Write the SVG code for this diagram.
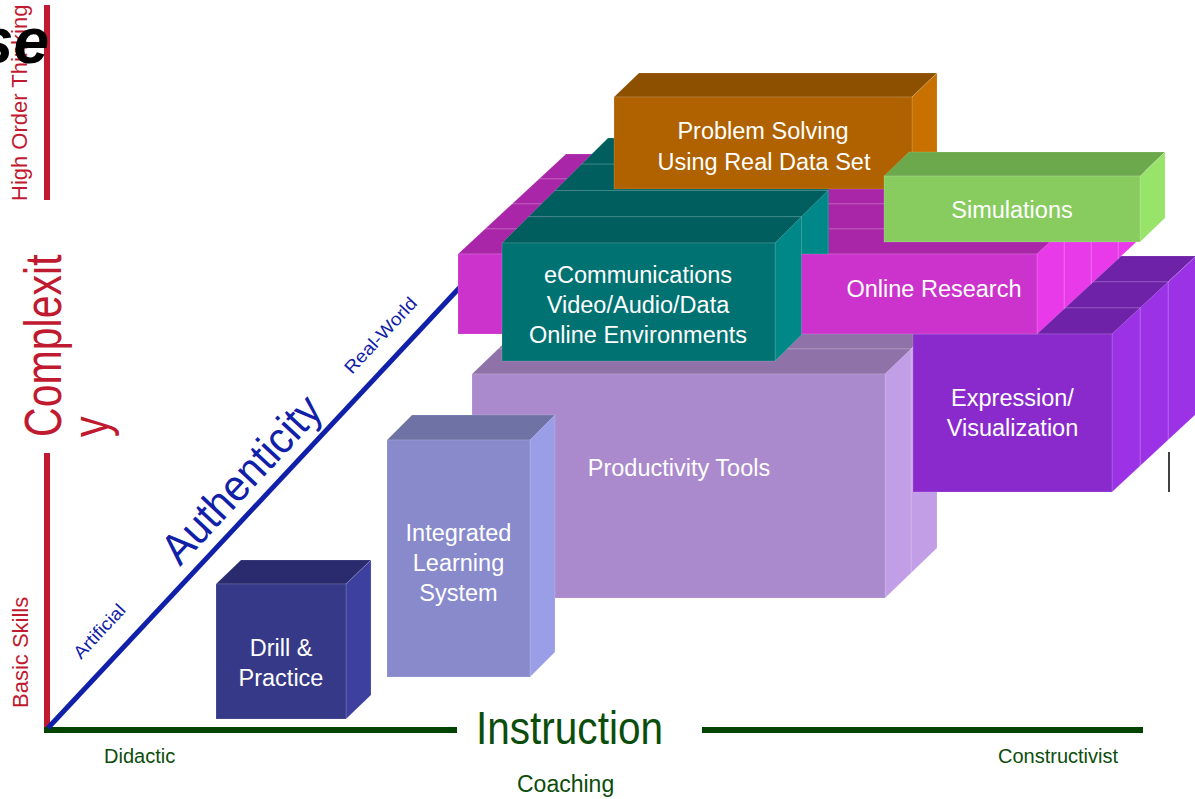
<svg xmlns="http://www.w3.org/2000/svg" width="1195" height="799" viewBox="0 0 1195 799">
<style>
  .lbl { font-family: "Liberation Sans", Arial, sans-serif; font-size: 23.5px; fill: #ffffff; text-anchor: middle; }
  .red { font-family: "Liberation Sans", Arial, sans-serif; fill: #c01a30; }
  .grn { font-family: "Liberation Sans", Arial, sans-serif; fill: #0b4d0b; }
  .blu { font-family: "Liberation Sans", Arial, sans-serif; fill: #1020a8; }
  .face { stroke: #ffffff; stroke-opacity: 0.14; stroke-width: 1; }
  .pt-f { fill: #aa8acc; } .pt-t { fill: #8e72a8; } .pt-s { fill: #c29ee6; }
  .pu-f { fill: #8a2acc; } .pu-t { fill: #6e22a8; } .pu-s { fill: #9c32e6; }
  .mg-f { fill: #cc33cc; } .mg-t { fill: #aa26a8; } .mg-s { fill: #e83ae8; }
  .tl-f { fill: #007272; } .tl-t { fill: #005e5e; } .tl-s { fill: #008888; }
  .or-f { fill: #b06200; } .or-t { fill: #8c5000; } .or-s { fill: #c87000; }
  .gr-f { fill: #88cc60; } .gr-t { fill: #6ca84c; } .gr-s { fill: #98e46a; }
  .il-f { fill: #888acc; } .il-t { fill: #6e72a5; } .il-s { fill: #9a9ee6; }
  .dp-f { fill: #363888; } .dp-t { fill: #292b6e; } .dp-s { fill: #3e40a0; }
</style>
<defs>
  <clipPath id="tealBack"><rect x="0" y="0" width="828.5" height="799"/></clipPath>
</defs>
<rect width="1195" height="799" fill="#ffffff"/>

<g id="axes">
  <line x1="47" y1="5" x2="47" y2="200" stroke="#c01a30" stroke-width="6"/>
  <line x1="47" y1="453" x2="47" y2="731" stroke="#c01a30" stroke-width="6"/>
  <line x1="44" y1="730" x2="457" y2="730" stroke="#004400" stroke-width="6"/>
  <line x1="702" y1="730" x2="1143" y2="730" stroke="#004400" stroke-width="6"/>
  <line x1="48" y1="728" x2="462" y2="285" stroke="#1020a8" stroke-width="5"/>
</g>

<g id="axis-labels">
  <text class="red" font-size="22" transform="translate(27,201) rotate(-90)">High Order Thinking</text>
  <text class="red" font-size="22" transform="translate(28,708) rotate(-90)">Basic Skills</text>
  <text class="red" font-size="52" transform="translate(61,437) rotate(-90) scale(0.79,1)">Complexit</text>
  <text class="red" font-size="52" transform="translate(108,437) rotate(-90) scale(0.79,1)">y</text>
  <text class="blu" font-size="44" textLength="212" lengthAdjust="spacingAndGlyphs" transform="translate(180,567) rotate(-47)">Authenticity</text>
  <text class="blu" font-size="18" textLength="67" lengthAdjust="spacingAndGlyphs" transform="translate(81,660) rotate(-47)">Artificial</text>
  <text class="blu" font-size="18" textLength="97" lengthAdjust="spacingAndGlyphs" transform="translate(352,375) rotate(-47)">Real-World</text>
  <text class="grn" font-size="46" x="476" y="744" textLength="187" lengthAdjust="spacingAndGlyphs">Instruction</text>
  <text class="grn" font-size="20" x="104" y="763">Didactic</text>
  <text class="grn" font-size="20" x="998" y="763">Constructivist</text>
  <text class="grn" font-size="23" x="517" y="792">Coaching</text>
</g>

<g id="productivity-tools">
  <polygon class="face pt-t" points="498,349 524,324 937,324 911,349"/>
  <polygon class="face pt-s" points="911,349 937,324 937,548 911,573"/>
  <rect class="face pt-f" x="498" y="349" width="413" height="224"/>
  <polygon class="face pt-t" points="472,374 498,349 911,349 885,374"/>
  <polygon class="face pt-s" points="885,374 911,349 911,573 885,598"/>
  <rect class="face pt-f" x="472" y="374" width="413" height="224"/>
  <text class="lbl" x="679" y="476">Productivity Tools</text>
</g>

<g id="expression-visualization">
  <polygon class="face pu-t" points="969,282 997,256 1196,256 1168,282"/>
  <polygon class="face pu-s" points="1168,282 1196,256 1196,414 1168,440"/>
  <rect class="face pu-f" x="969" y="282" width="199" height="158"/>
  <polygon class="face pu-t" points="941,308 969,282 1168,282 1140,308"/>
  <polygon class="face pu-s" points="1140,308 1168,282 1168,440 1140,466"/>
  <rect class="face pu-f" x="941" y="308" width="199" height="158"/>
  <polygon class="face pu-t" points="913,334 941,308 1140,308 1112,334"/>
  <polygon class="face pu-s" points="1112,334 1140,308 1140,466 1112,492"/>
  <rect class="face pu-f" x="913" y="334" width="199" height="158"/>
  <text class="lbl" x="1012.5" y="406">Expression/</text>
  <text class="lbl" x="1012.5" y="436">Visualization</text>
  <line x1="1169" y1="452" x2="1169" y2="492" stroke="#000000" stroke-width="1.5"/>
</g>

<g id="online-research-back">
  <polygon class="face mg-t" points="539,179 566,154 1145,154 1118,179"/>
  <polygon class="face mg-s" points="1118,179 1145,154 1145,234 1118,259"/>
  <rect class="face mg-f" x="539" y="179" width="579" height="80"/>
  <polygon class="face mg-t" points="512,204 539,179 1118,179 1091,204"/>
  <polygon class="face mg-s" points="1091,204 1118,179 1118,259 1091,284"/>
  <rect class="face mg-f" x="512" y="204" width="579" height="80"/>
  <polygon class="face mg-t" points="485,229 512,204 1091,204 1064,229"/>
  <polygon class="face mg-s" points="1064,229 1091,204 1091,284 1064,309"/>
  <rect class="face mg-f" x="485" y="229" width="579" height="80"/>
  <polygon class="face mg-t" points="458,254 485,229 1064,229 1037,254"/>
  <polygon class="face mg-s" points="1037,254 1064,229 1064,309 1037,334"/>
</g>

<g id="ecommunications-back" clip-path="url(#tealBack)">
  <polygon class="face tl-t" points="581.5,164.25 608,138 881,138 854.5,164.25"/>
  <polygon class="face tl-s" points="854.5,164.25 881,138 881,256 854.5,282.25"/>
  <rect class="face tl-f" x="581.5" y="164.25" width="273" height="118"/>
  <polygon class="face tl-t" points="555,190.5 581.5,164.25 854.5,164.25 828,190.5"/>
  <polygon class="face tl-s" points="828,190.5 854.5,164.25 854.5,282.25 828,308.5"/>
  <rect class="face tl-f" x="555" y="190.5" width="273" height="118"/>
  <polygon class="face tl-t" points="528.5,216.75 555,190.5 828,190.5 801.5,216.75"/>
  <polygon class="face tl-s" points="801.5,216.75 828,190.5 828,308.5 801.5,334.75"/>
  <rect class="face tl-f" x="528.5" y="216.75" width="273" height="118"/>
</g>

<g id="online-research">
  <rect class="face mg-f" x="458" y="254" width="579" height="80"/>
  <text class="lbl" x="934" y="297">Online Research</text>
</g>

<g id="ecommunications">
  <polygon class="face tl-t" points="502,243 528.5,216.75 801.5,216.75 775,243"/>
  <polygon class="face tl-s" points="775,243 801.5,216.75 801.5,334.75 775,361"/>
  <rect class="face tl-f" x="502" y="243" width="273" height="118"/>
  <text class="lbl" x="638" y="283">eCommunications</text>
  <text class="lbl" x="638" y="313">Video/Audio/Data</text>
  <text class="lbl" x="638" y="343">Online Environments</text>
</g>

<g id="problem-solving">
  <polygon class="face or-t" points="614,97 639,73 937,73 912,97"/>
  <polygon class="face or-s" points="912,97 937,73 937,165 912,189"/>
  <rect class="face or-f" x="614" y="97" width="298" height="92"/>
  <text class="lbl" x="763" y="139">Problem Solving</text>
  <text class="lbl" x="764" y="170">Using Real Data Set</text>
</g>

<g id="simulations">
  <polygon class="face gr-t" points="884,176 909,152 1165,152 1140,176"/>
  <polygon class="face gr-s" points="1140,176 1165,152 1165,218 1140,242"/>
  <rect class="face gr-f" x="884" y="176" width="256" height="66"/>
  <text class="lbl" x="1012" y="218">Simulations</text>
</g>

<g id="integrated-learning-system">
  <polygon class="face il-t" points="387,440 412,415 555,415 530,440"/>
  <polygon class="face il-s" points="530,440 555,415 555,652 530,677"/>
  <rect class="face il-f" x="387" y="440" width="143" height="237"/>
  <text class="lbl" x="458.5" y="541">Integrated</text>
  <text class="lbl" x="458.5" y="571">Learning</text>
  <text class="lbl" x="458.5" y="601">System</text>
</g>

<g id="drill-practice">
  <polygon class="face dp-t" points="216,584 241,560 371,560 346,584"/>
  <polygon class="face dp-s" points="346,584 371,560 371,695 346,719"/>
  <rect class="face dp-f" x="216" y="584" width="130" height="135"/>
  <text class="lbl" x="281" y="656">Drill &amp;</text>
  <text class="lbl" x="281" y="686">Practice</text>
</g>

<text font-family="Liberation Sans, Arial, sans-serif" font-size="64" font-weight="bold" font-style="italic" fill="#000000" x="49" y="63" text-anchor="end">se</text>
</svg>
